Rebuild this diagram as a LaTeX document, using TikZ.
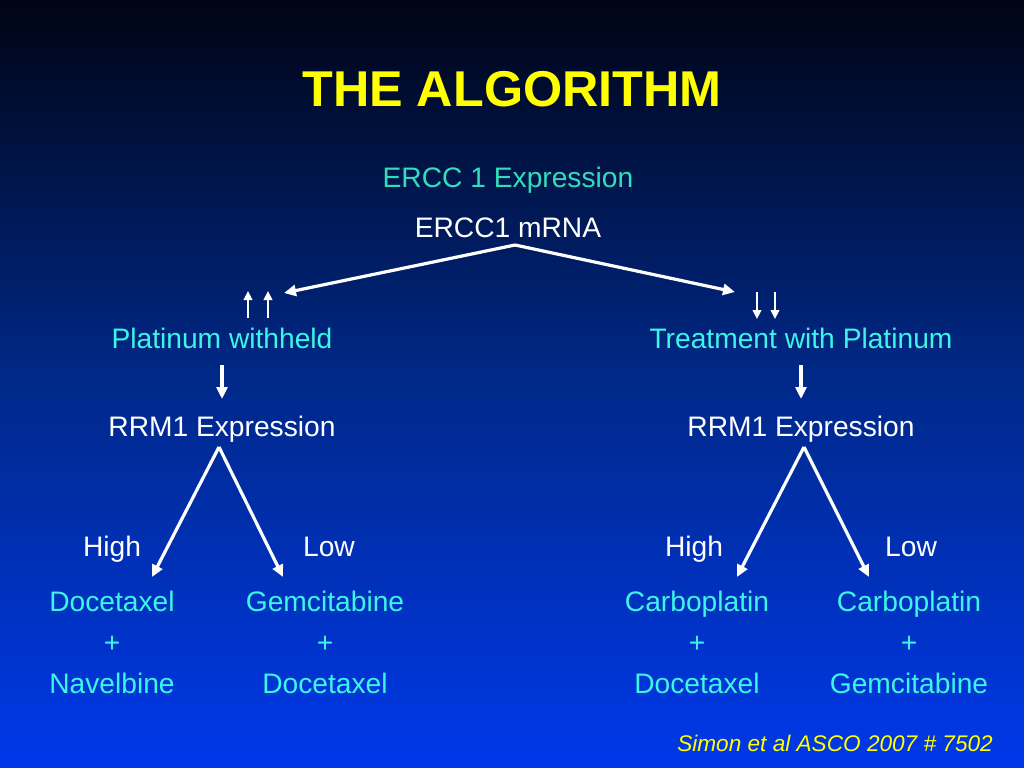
\documentclass[tikz,border=0pt]{standalone}
\usepackage{fontspec}
\setmainfont{Liberation Sans}
\usetikzlibrary{arrows.meta}
\definecolor{ttl}{HTML}{FFFF00}
\definecolor{teal1}{HTML}{33DDBB}
\definecolor{cyn}{HTML}{3CF5E6}
\definecolor{bgtop}{HTML}{000414}
\definecolor{bgmid}{HTML}{00298A}
\definecolor{bgbot}{HTML}{0038EA}
\tikzset{
  lbl/.style={font=\fontsize{28.3}{34}\selectfont, inner sep=0pt, anchor=base},
  cy/.style={lbl, text=cyn},
  wh/.style={lbl, text=white},
  arr/.style={draw=white, line width=3.2bp, -{Triangle[length=12bp,width=11bp]}},
  sarr/.style={draw=white, line width=2.8bp, -{Triangle[length=9bp,width=8.5bp]}},
}
\begin{document}
\begin{tikzpicture}[x=1bp,y=-1bp]
\useasboundingbox (0,0) rectangle (1024,768);
\shade[top color=bgtop, bottom color=bgbot, middle color=bgmid] (0,0) rectangle (1024,768);

\node[anchor=base, inner sep=0pt, text=ttl, font=\fontsize{50.5}{60}\selectfont\bfseries] (title) at (512,106) {THE ALGORITHM};

\node[lbl, text=teal1] (ercc) at (508,187) {ERCC 1 Expression};
\node[wh] (mrna) at (508,237) {ERCC1 mRNA};

\node[cy] (plw) at (222,348) {Platinum withheld};
\node[cy] (twp) at (801,348) {Treatment with Platinum};

\node[wh] (rrmL) at (222,436) {RRM1 Expression};
\node[wh] (rrmR) at (801,436) {RRM1 Expression};

\node[wh] (hiL) at (112,556) {High};
\node[wh] (loL) at (329,556) {Low};
\node[wh] (hiR) at (694,556) {High};
\node[wh] (loR) at (911,556) {Low};

\node[cy] (a1) at (112,611) {Docetaxel};
\node[cy] (a2) at (112,652) {+};
\node[cy] (a3) at (112,693) {Navelbine};
\node[cy] (b1) at (325,611) {Gemcitabine};
\node[cy] (b2) at (325,652) {+};
\node[cy] (b3) at (325,693) {Docetaxel};
\node[cy] (c1) at (697,611) {Carboplatin};
\node[cy] (c2) at (697,652) {+};
\node[cy] (c3) at (697,693) {Docetaxel};
\node[cy] (d1) at (909,611) {Carboplatin};
\node[cy] (d2) at (909,652) {+};
\node[cy] (d3) at (909,693) {Gemcitabine};

\node[anchor=base east, inner sep=0pt, text=ttl, font=\fontsize{22.7}{27}\selectfont\itshape] (cite) at (993,751) {Simon et al ASCO 2007 \# 7502};

% coordinates
\coordinate (top) at (515,245);
\coordinate (tL) at (284,293);
\coordinate (tR) at (735,292);
\coordinate (u1s) at (248,318); \coordinate (u1e) at (248,291);
\coordinate (u2s) at (268,318); \coordinate (u2e) at (268,291);
\coordinate (d1s) at (757,292); \coordinate (d1e) at (757,319);
\coordinate (d2s) at (775,292); \coordinate (d2e) at (775,319);
\coordinate (vLs) at (222,365); \coordinate (vLe) at (222,399);
\coordinate (vRs) at (801,365); \coordinate (vRe) at (801,399);
\coordinate (apL) at (219,447);
\coordinate (apR) at (804,447);
\coordinate (tLL) at (152,577); \coordinate (tLR) at (283,577);
\coordinate (tRL) at (737,577); \coordinate (tRR) at (869,577);

\draw[arr] (top) -- (tL);
\draw[arr] (top) -- (tR);
\draw[sarr] (u1s) -- (u1e);
\draw[sarr] (u2s) -- (u2e);
\draw[sarr] (d1s) -- (d1e);
\draw[sarr] (d2s) -- (d2e);
\draw[arr] (vLs) -- (vLe);
\draw[arr] (vRs) -- (vRe);
\draw[arr] (apL) -- (tLL);
\draw[arr] (apL) -- (tLR);
\draw[arr] (apR) -- (tRL);
\draw[arr] (apR) -- (tRR);
\end{tikzpicture}
\end{document}
